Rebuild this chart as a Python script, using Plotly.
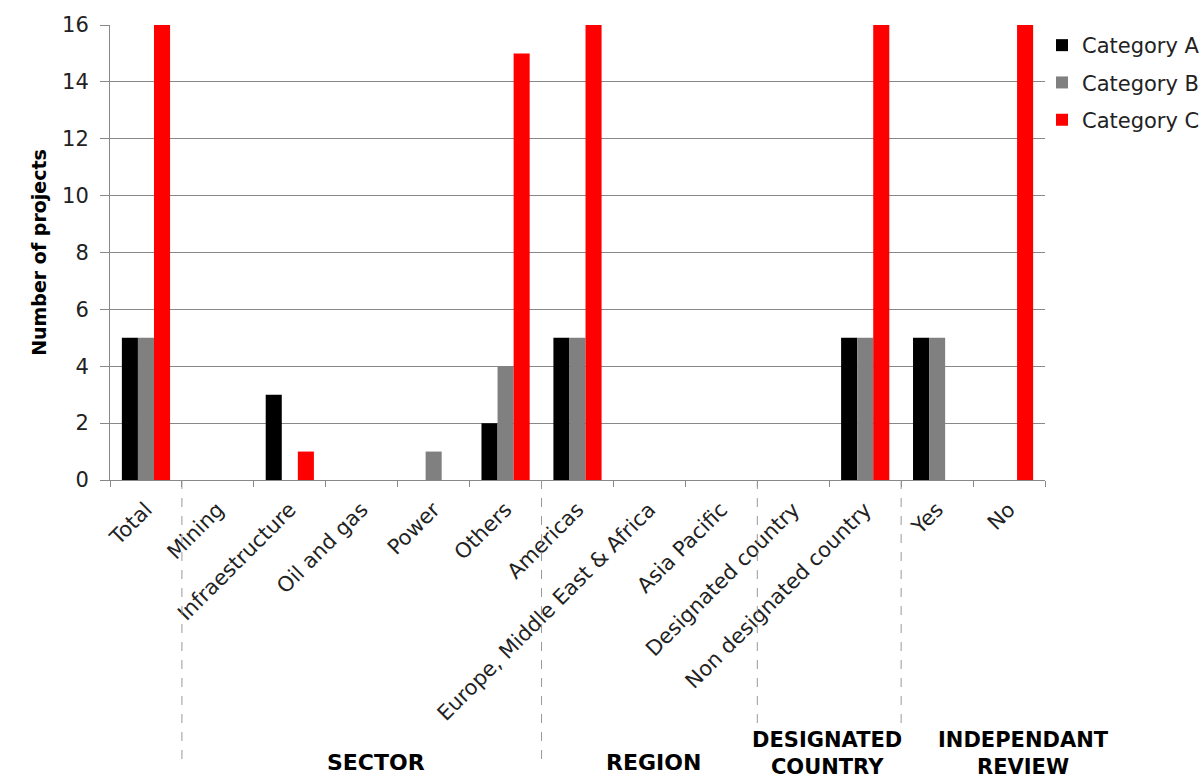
import plotly.graph_objects as go

categories = ["Total", "Mining", "Infraestructure", "Oil and gas", "Power", "Others",
              "Americas", "Europe, Middle East & Africa", "Asia Pacific",
              "Designated country", "Non designated country", "Yes", "No"]
cat_a = [5, 0, 3, 0, 0, 2, 5, 0, 0, 0, 5, 5, 0]
cat_b = [5, 0, 0, 0, 1, 4, 5, 0, 0, 0, 5, 5, 0]
cat_c = [16, 0, 1, 0, 0, 15, 16, 0, 0, 0, 16, 0, 16]
series_names = ["Category A", "Category B", "Category C"]
series_colors = ["#000000", "#808080", "#FF0000"]

group_labels = ["SECTOR", "REGION", "DESIGNATED<br>COUNTRY", "INDEPENDANT<br>REVIEW"]
group_centers = [3.2, 7.06, 9.47, 12.2]
separators = [0.5, 5.5, 8.5, 10.5]
separator_depth = [0.615, 0.615, 0.543, 0.543]

font = "DejaVu Sans"
fig = go.Figure()
for name, vals, col in zip(series_names, [cat_a, cat_b, cat_c], series_colors):
    fig.add_trace(go.Bar(x=categories, y=vals, name=name, marker_color=col,
                         legendgroup=name, marker_line=dict(width=0)))

for xs, d in zip(separators, separator_depth):
    fig.add_shape(type="line", xref="x", yref="paper", x0=xs, x1=xs, y0=0, y1=-d,
                  line=dict(color="#999999", width=1, dash="dash"))

plot_h = 455.0
for lab, xc in zip(group_labels, group_centers):
    if "<br>" in lab:
        fig.add_annotation(text="<b>" + lab + "</b>", xref="x", yref="paper", x=xc,
                           y=-(780 - 480) / plot_h, yanchor="bottom", showarrow=False,
                           borderpad=0,
                           font=dict(family=font, size=21, color="#000000"))
    else:
        fig.add_annotation(text="<b>" + lab + "</b>", xref="x", yref="paper", x=xc,
                           y=-(762 - 480) / plot_h, yanchor="middle", showarrow=False,
                           borderpad=0,
                           font=dict(family=font, size=22, color="#000000"))

fig.update_layout(
    width=1204, height=782,
    margin=dict(l=110, r=159, t=25, b=302, autoexpand=False),
    paper_bgcolor="white", plot_bgcolor="white",
    barmode="group", bargap=0.33, bargroupgap=0,
    font=dict(family=font, size=21, color="#222222"),
    showlegend=True,
    legend=dict(x=0.9968, y=1.0, xanchor="left", yanchor="top",
                font=dict(family=font, size=21, color="#222222"),
                tracegroupgap=7, bgcolor="rgba(0,0,0,0)"),
)
fig.update_xaxes(range=[-0.5, 12.5], automargin=False,
                 showline=True, linecolor="#888888", linewidth=1,
                 ticks="outside", tickson="boundaries", ticklen=6, tickcolor="#888888",
                 tickangle=-45, ticklabelstandoff=8,
                 tickfont=dict(family=font, size=21, color="#222222"),
                 showgrid=False)
fig.update_yaxes(range=[0, 16], dtick=2, showline=True, linecolor="#888888", automargin=False,
                 ticks="outside", ticklen=9, tickcolor="#888888", ticklabelstandoff=7,
                 showgrid=True, gridcolor="#888888", gridwidth=1,
                 tickfont=dict(family=font, size=21, color="#222222"),
                 title=dict(text="<b>Number of projects</b>", standoff=10,
                            font=dict(family=font, size=19, color="#000000")))

fig.write_html("out.html")
